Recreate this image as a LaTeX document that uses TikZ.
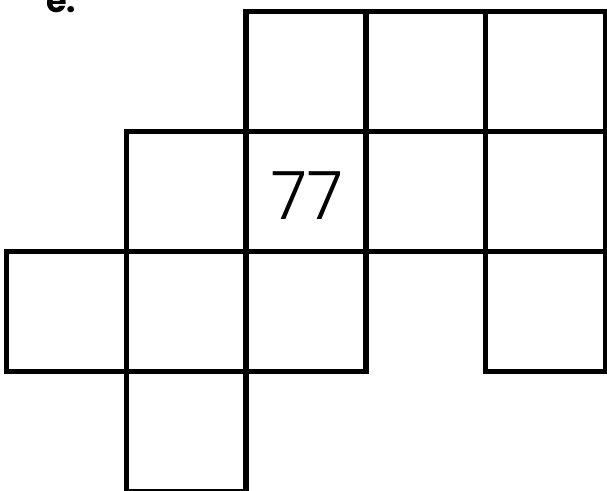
\documentclass[tikz,border=0pt]{standalone}
\usepackage{fontspec}
\setmainfont{Poppins}
\newfontfamily\thinnum{Poppins Light}
\usepackage{tikz}
\usetikzlibrary{positioning}
\tikzset{
  cell/.style  ={draw, line width=0.1cm, minimum size=2.4cm,
                 inner sep=0pt, outer sep=0pt},
  numlbl/.style={font=\thinnum\fontsize{38}{40}\selectfont, inner sep=0pt},
  tag/.style   ={font=\bfseries\fontsize{19}{20}\selectfont, inner sep=0pt,
                 anchor=base west},
}
\begin{document}
\begin{tikzpicture}[node distance=0cm]
  \useasboundingbox (0,0) rectangle (12.14,-9.8);
  \node[tag] (lbl) at (0.92,-0.25) {e.};
  % top row
  \node[cell] (r0c2) at (6.12,-1.42) {};
  \node[cell, right=of r0c2] (r0c3) {};
  \node[cell, right=of r0c3] (r0c4) {};
  % second row
  \node[cell, below=of r0c2] (r1c2) {};
  \node[cell, left=of r1c2] (r1c1) {};
  \node[cell, below=of r0c3] (r1c3) {};
  \node[cell, below=of r0c4] (r1c4) {};
  \node[numlbl] (val) at ([xshift=0.03cm,yshift=-0.1cm]r1c2) {77};
  % third row
  \node[cell, below=of r1c1] (r2c1) {};
  \node[cell, left=of r2c1] (r2c0) {};
  \node[cell, below=of r1c2] (r2c2) {};
  \node[cell, below=of r1c4] (r2c4) {};
  % bottom row
  \node[cell, below=of r2c1] (r3c1) {};
\end{tikzpicture}
\end{document}
